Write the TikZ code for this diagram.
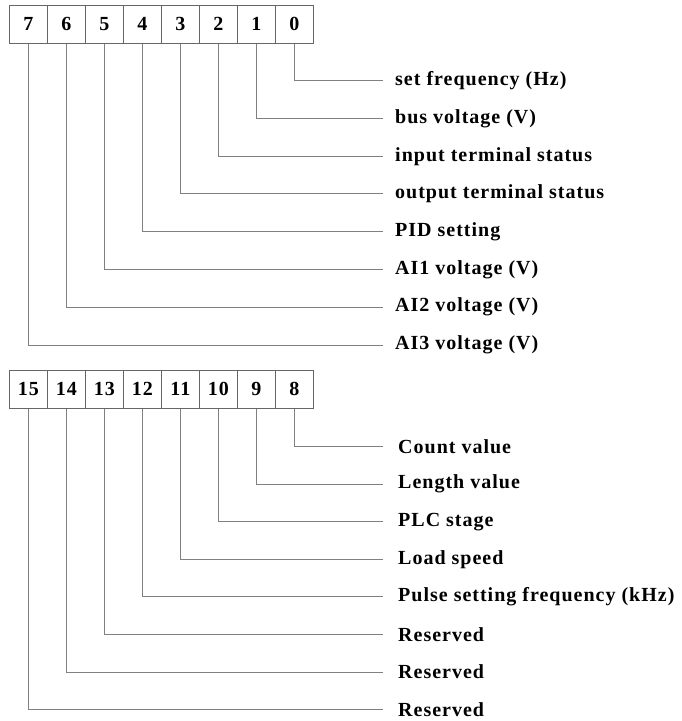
\documentclass[tikz,border=0pt]{standalone}
\usepackage{fontspec}
\setmainfont{Liberation Serif}[LetterSpace=5]
\usetikzlibrary{positioning}
\tikzset{
  bitcell/.style={draw=black!60, line width=1pt, minimum width=38pt, minimum height=38pt, inner sep=0pt, font=\bfseries\fontsize{20}{24}\selectfont},
  bitlabel/.style={anchor=west, inner xsep=12pt, inner ysep=0pt, font=\bfseries\fontsize{20}{24}\selectfont},
  wire/.style={draw=black!50, line width=1pt}
}

\begin{document}
\begin{tikzpicture}[x=1pt,y=-1pt]
	\useasboundingbox (0,0) rectangle (681,721);

	% upper byte
	\foreach \b in {0,...,7}
		\node[bitcell] (c\b) at ({28.3+38*(7-\b)},24) {\b};
	% lower byte
	\foreach \b in {8,...,15}
		\node[bitcell] (c\b) at ({28.3+38*(15-\b)},389) {\b};

	\foreach \b/\txt in {0/set frequency (Hz), 1/bus voltage (V), 2/input terminal status,
		3/output terminal status, 4/PID setting, 5/AI1 voltage (V), 6/AI2 voltage (V), 7/AI3 voltage (V)}
		\node[bitlabel] (l\b) at (383,{80.7+37.76*\b}) {\txt};

	\foreach \b/\txt in {8/Count value, 9/Length value, 10/PLC stage, 11/Load speed,
		12/Pulse setting frequency (kHz), 13/Reserved, 14/Reserved, 15/Reserved}
		\node[bitlabel, inner xsep=15pt] (l\b) at (383,{446.7+37.55*(\b-8)}) {\txt};

	\foreach \b in {0,...,15}
		\draw[wire] (c\b.south) |- (l\b.west);

\end{tikzpicture}
\end{document}
